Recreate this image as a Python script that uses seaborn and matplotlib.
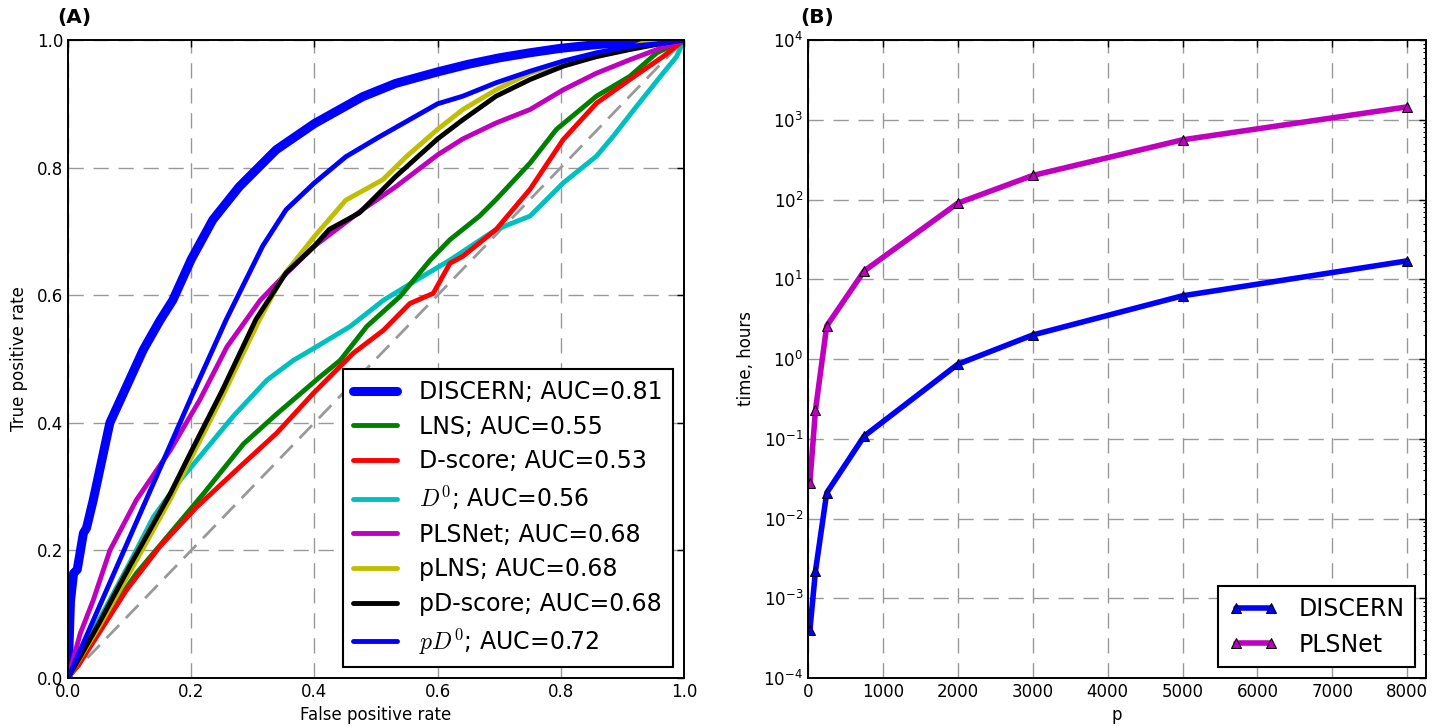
import numpy as np
import pandas as pd
import matplotlib
matplotlib.use("Agg")
import matplotlib.pyplot as plt
import seaborn as sns

# ---------------- Panel A: ROC curves ----------------
discern_fpr = [0, 0.004, 0.009, 0.015, 0.025, 0.03, 0.041, 0.068, 0.095, 0.122, 0.149, 0.17, 0.2, 0.235,
               0.278, 0.338, 0.4, 0.478, 0.532, 0.6, 0.65, 0.7, 0.75, 0.8, 0.86, 0.91, 1.0]
discern_tpr = [0, 0.12, 0.164, 0.17, 0.227, 0.235, 0.279, 0.40, 0.457, 0.514, 0.56, 0.592, 0.656, 0.718,
               0.77, 0.828, 0.869, 0.911, 0.932, 0.95, 0.962, 0.972, 0.98, 0.987, 0.993, 0.996, 1.0]

lns_fpr = [0, 0.02, 0.05, 0.111, 0.166, 0.22, 0.285, 0.339, 0.409, 0.442, 0.485, 0.539, 0.588, 0.62,
           0.668, 0.695, 0.75, 0.793, 0.858, 0.912, 0.956, 1.0]
lns_tpr = [0, 0.035, 0.08, 0.164, 0.227, 0.289, 0.367, 0.414, 0.472, 0.498, 0.551, 0.598, 0.655, 0.687,
           0.724, 0.75, 0.807, 0.86, 0.912, 0.943, 0.98, 1.0]

dscore_fpr = [0, 0.019, 0.05, 0.095, 0.149, 0.209, 0.279, 0.339, 0.398, 0.463, 0.512, 0.555, 0.593,
              0.62, 0.641, 0.695, 0.75, 0.804, 0.858, 0.912, 0.966, 1.0]
dscore_tpr = [0, 0.023, 0.07, 0.138, 0.206, 0.268, 0.331, 0.384, 0.446, 0.509, 0.545, 0.587, 0.603,
              0.65, 0.661, 0.703, 0.766, 0.844, 0.901, 0.938, 0.974, 1.0]

d0_fpr = [0, 0.05, 0.1, 0.139, 0.182, 0.214, 0.268, 0.323, 0.366, 0.403, 0.458, 0.512, 0.566, 0.62,
          0.695, 0.75, 0.804, 0.858, 0.885, 0.923, 0.966, 0.988, 1.0]
d0_tpr = [0, 0.09, 0.18, 0.253, 0.31, 0.347, 0.41, 0.467, 0.498, 0.519, 0.551, 0.592, 0.624, 0.655,
          0.703, 0.724, 0.776, 0.818, 0.849, 0.896, 0.948, 0.974, 1.0]

plsnet_fpr = [0, 0.02, 0.041, 0.068, 0.111, 0.166, 0.214, 0.258, 0.312, 0.35, 0.4, 0.478, 0.532, 0.6,
              0.641, 0.695, 0.75, 0.804, 0.858, 0.912, 0.956, 1.0]
plsnet_tpr = [0, 0.07, 0.122, 0.2, 0.279, 0.357, 0.436, 0.519, 0.592, 0.63, 0.677, 0.734, 0.77, 0.82,
              0.845, 0.87, 0.891, 0.922, 0.948, 0.969, 0.985, 1.0]

plns_fpr = [0, 0.05, 0.1, 0.166, 0.2, 0.25, 0.311, 0.349, 0.4, 0.451, 0.511, 0.549, 0.6, 0.641, 0.695,
            0.75, 0.804, 0.858, 0.912, 0.94, 1.0]
plns_tpr = [0, 0.08, 0.165, 0.28, 0.345, 0.44, 0.562, 0.63, 0.692, 0.749, 0.781, 0.817, 0.86, 0.891,
            0.922, 0.948, 0.964, 0.974, 0.987, 0.998, 1.0]

pdscore_fpr = [0, 0.05, 0.1, 0.166, 0.2, 0.25, 0.305, 0.354, 0.4, 0.424, 0.473, 0.532, 0.6, 0.641,
               0.695, 0.75, 0.804, 0.858, 0.912, 0.966, 1.0]
pdscore_tpr = [0, 0.085, 0.175, 0.289, 0.355, 0.45, 0.562, 0.635, 0.677, 0.703, 0.729, 0.786, 0.845,
               0.875, 0.912, 0.938, 0.959, 0.974, 0.985, 0.995, 1.0]

pd0_fpr = [0, 0.05, 0.1, 0.15, 0.2, 0.257, 0.316, 0.354, 0.4, 0.451, 0.505, 0.6, 0.641, 0.695, 0.75,
           0.804, 0.858, 0.912, 0.966, 1.0]
pd0_tpr = [0, 0.11, 0.22, 0.33, 0.44, 0.562, 0.677, 0.734, 0.776, 0.817, 0.848, 0.9, 0.912, 0.933,
           0.951, 0.967, 0.98, 0.99, 0.995, 1.0]

roc_labels = ["DISCERN; AUC=0.81", "LNS; AUC=0.55", "D-score; AUC=0.53", r"$D^0$; AUC=0.56",
              "PLSNet; AUC=0.68", "pLNS; AUC=0.68", "pD-score; AUC=0.68", r"$pD^0$; AUC=0.72"]
roc_colors = ["#0000FF", "#008000", "#FF0000", "#00BFBF", "#BF00BF", "#BFBF00", "#000000", "#0000FF"]

# ---------------- Panel B: running time ----------------
p_values = [25, 100, 250, 750, 2000, 3000, 5000, 8000]
discern_time = [4.0e-4, 2.2e-3, 0.021, 0.108, 0.86, 2.0, 6.2, 17.0]
plsnet_time = [0.028, 0.23, 2.6, 12.7, 90.0, 200.0, 560.0, 1450.0]

# ---------------- Style ----------------
sns.set_style("white")
plt.rcParams["font.family"] = ["DejaVu Sans"]
plt.rcParams["mathtext.fontset"] = "cm"
plt.rcParams["text.color"] = "black"
plt.rcParams["axes.labelcolor"] = "black"
plt.rcParams["xtick.color"] = "black"
plt.rcParams["ytick.color"] = "black"

fig = plt.figure(figsize=(14.4, 7.26), dpi=100)
axA = fig.add_axes([68 / 1440, 1 - 678 / 726, 616 / 1440, 638 / 726])
axB = fig.add_axes([808 / 1440, 1 - 678 / 726, 618 / 1440, 638 / 726])

grid_kw = dict(color="0.6", linestyle=(0, (11, 7)), linewidth=1.0)


def style_axes(ax):
    for s in ax.spines.values():
        s.set_color("black")
        s.set_linewidth(1.4)
    ax.tick_params(which="both", direction="in", top=True, right=True, labelsize=12,
                   colors="black")
    ax.tick_params(which="major", length=5, width=1)
    ax.tick_params(which="minor", length=2.5, width=0.8)
    ax.grid(True, which="major", **grid_kw)


# Panel A
curves = [(discern_fpr, discern_tpr), (lns_fpr, lns_tpr), (dscore_fpr, dscore_tpr), (d0_fpr, d0_tpr),
          (plsnet_fpr, plsnet_tpr), (plns_fpr, plns_tpr), (pdscore_fpr, pdscore_tpr), (pd0_fpr, pd0_tpr)]
widths = [6.5, 3.5, 3.5, 3.5, 3.5, 3.5, 3.5, 3.5]
axA.plot([0, 1], [0, 1], color="0.6", linestyle=(0, (6.5, 3.5)), linewidth=2, zorder=1.8)
order = [0, 3, 1, 2, 4, 5, 6, 7]
for i in order:
    fx, fy = curves[i]
    df = pd.DataFrame({"fpr": fx, "tpr": fy})
    sns.lineplot(data=df, x="fpr", y="tpr", ax=axA, color=roc_colors[i], linewidth=widths[i],
                 label=roc_labels[i], estimator=None, sort=False, legend=False)
lines = axA.get_lines()[1:]
lab2line = {l.get_label(): l for l in lines}
legA = axA.legend([lab2line[l] for l in roc_labels], roc_labels, loc="lower right", fontsize=17,
                  frameon=True, fancybox=False, edgecolor="black", framealpha=1, handlelength=1.86,
                  handletextpad=0.93, labelspacing=0.45, borderaxespad=0.45, borderpad=0.45)
legA.get_frame().set_linewidth(1.5)
axA.set_xlim(0, 1)
axA.set_ylim(0, 1)
axA.set_xticks(np.arange(0, 1.01, 0.2))
axA.set_yticks(np.arange(0, 1.01, 0.2))
axA.set_xlabel("False positive rate", fontsize=12, labelpad=4)
axA.set_ylabel("True positive rate", fontsize=12, labelpad=6)
style_axes(axA)
axA.text(-0.018, 1.02, "(A)", transform=axA.transAxes, fontsize=14.5, fontweight="bold",
         ha="left", va="bottom")

# Panel B
dfB = pd.DataFrame({"p": p_values, "DISCERN": discern_time, "PLSNet": plsnet_time})
sns.lineplot(data=dfB, x="p", y="DISCERN", ax=axB, color="#0000FF", linewidth=4, marker="^",
             markersize=7, markeredgecolor="black", markerfacecolor="#0000FF", label="DISCERN",
             estimator=None, legend=False)
sns.lineplot(data=dfB, x="p", y="PLSNet", ax=axB, color="#BF00BF", linewidth=4, marker="^",
             markersize=7, markeredgecolor="black", markerfacecolor="#BF00BF", label="PLSNet",
             estimator=None, legend=False)
axB.set_yscale("log")
axB.set_ylim(1e-4, 1e4)
axB.set_xlim(0, 8250)
axB.set_xticks(np.arange(0, 8001, 1000))
axB.set_xlabel("p", fontsize=12, labelpad=4)
axB.set_ylabel("time, hours", fontsize=12, labelpad=6)
style_axes(axB)
legB = axB.legend(loc="lower right", fontsize=17, numpoints=2, frameon=True, fancybox=False,
                  edgecolor="black", framealpha=1, handlelength=2.1, handletextpad=0.85,
                  labelspacing=0.5, borderaxespad=0.45, borderpad=0.45)
legB.get_frame().set_linewidth(1.5)
axB.text(-0.013, 1.02, "(B)", transform=axB.transAxes, fontsize=14.5, fontweight="bold",
         ha="left", va="bottom")

fig.savefig("out.png", dpi=100)
